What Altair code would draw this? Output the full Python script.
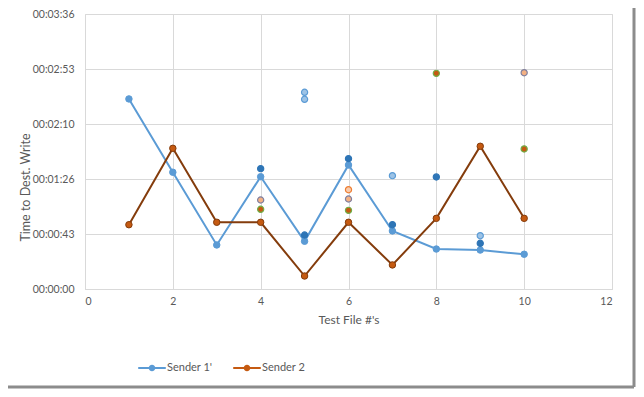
import altair as alt
import pandas as pd

files = [1, 2, 3, 4, 5, 6, 7, 8, 9, 10]
sender1 = [149.3, 91.7, 34.6, 88.2, 37.5, 97.4, 45.6, 31.4, 30.6, 27.3]
sender2 = [50.5, 110.5, 52.4, 52.4, 10.2, 52.4, 18.9, 55.5, 112.1, 55.5]
series_names = ["Sender 1'", "Sender 2"]

extra_x = [4, 4, 4, 5, 5, 5, 6, 6, 6, 6, 7, 7, 8, 8, 9, 9, 10, 10]
extra_y = [94.5, 69.9, 62.6, 154.5, 149.0, 42.4, 102.4, 78.0, 70.7, 61.8,
           89.0, 50.5, 169.4, 88.0, 41.9, 35.9, 169.9, 110.0]
extra_kind = ["dark", "grey", "green", "light", "light", "dark", "dark", "orange",
              "grey", "green", "light", "dark", "green", "dark", "light", "dark",
              "grey", "green"]

y_ticks = [0, 43.2, 86.4, 129.6, 172.8, 216]
x_ticks = [0, 2, 4, 6, 8, 10, 12]

rows = []
for i, f in enumerate(files):
    rows.append({"file": f, "t": sender1[i], "series": series_names[0]})
    rows.append({"file": f, "t": sender2[i], "series": series_names[1]})
df = pd.DataFrame(rows)
extra = pd.DataFrame({"file": extra_x, "t": extra_y, "kind": extra_kind})

FONT = "Lato"
GREY = "#595959"
W, H = 527, 275

label_expr = ("'00:0' + floor(round(datum.value)/60) + ':' + "
              "(round(datum.value)%60 < 10 ? '0' : '') + (round(datum.value)%60)")

xenc = alt.X("file:Q", scale=alt.Scale(domain=[0, 12], nice=False),
             axis=alt.Axis(values=x_ticks, title="Test File #'s", grid=True,
                           gridColor="#d9d9d9", domainColor="#d9d9d9", ticks=False,
                           labelPadding=7, titlePadding=8, labelColor=GREY,
                           titleColor=GREY, labelFont=FONT, titleFont=FONT,
                           labelFontSize=10.5, titleFontSize=12, titleFontWeight="normal"))
yenc = alt.Y("t:Q", scale=alt.Scale(domain=[0, 216], nice=False, zero=True),
             axis=alt.Axis(values=y_ticks, labelExpr=label_expr, title="Time to Dest. Write",
                           grid=True, gridColor="#d9d9d9", domain=False, ticks=False,
                           labelPadding=11, labelColor=GREY, titleColor=GREY,
                           labelFont=FONT, titleFont=FONT, labelFontSize=10.5,
                           titleFontSize=12.5, titleFontWeight="normal",
                           titleX=-60, titleY=173, titleAngle=-90,
                           titleBaseline="middle", titleAlign="center"))

lines = alt.Chart(df).mark_line(strokeWidth=2).encode(
    x=xenc, y=yenc,
    stroke=alt.Stroke("series:N", scale=alt.Scale(domain=series_names,
                                                  range=["#5b9bd5", "#843c0c"]),
                      legend=None),
)

legend_path = ("M-1,-0.075 L1,-0.075 L1,0.075 L-1,0.075 Z "
               "M-0.24,0 A0.24,0.24 0 1,1 0.24,0 A0.24,0.24 0 1,1 -0.24,0 Z")

points = alt.Chart(df).mark_point(filled=True, size=42, opacity=1, strokeWidth=1).encode(
    x="file:Q", y="t:Q",
    color=alt.Color("series:N",
                    scale=alt.Scale(domain=series_names, range=["#5b9bd5", "#c55a11"]),
                    legend=alt.Legend(title=None, orient="none", direction="horizontal",
                                      legendX=53, legendY=340, symbolType=legend_path,
                                      symbolSize=760, symbolStrokeWidth=0,
                                      labelFont=FONT, labelFontSize=11, labelColor=GREY,
                                      labelOffset=1, columnPadding=20, padding=0,
                                      symbolOpacity=1)),
    stroke=alt.Stroke("series:N", scale=alt.Scale(domain=series_names,
                                                  range=["#5b9bd5", "#843c0c"]),
                      legend=None),
)

kinds = ["dark", "light", "grey", "green", "orange"]
extras = alt.Chart(extra).mark_point(filled=True, size=38, opacity=1, strokeWidth=1.2).encode(
    x="file:Q", y="t:Q",
    fill=alt.Fill("kind:N", scale=alt.Scale(domain=kinds,
                  range=["#2e75b6", "#9dc3e6", "#f4b183", "#c55a11", "#f8cbad"]), legend=None),
    stroke=alt.Stroke("kind:N", scale=alt.Scale(domain=kinds,
                      range=["#2e75b6", "#5b9bd5", "#7f7f9f", "#70ad47", "#ed7d31"]), legend=None),
)

frame_r = alt.Chart(pd.DataFrame({"a": [0]})).mark_rule(color="#8c8c8c", strokeWidth=3).encode(
    x=alt.value(W + 22), y=alt.value(-6), y2=alt.value(H + 98))
frame_b = alt.Chart(pd.DataFrame({"a": [0]})).mark_rule(color="#8c8c8c", strokeWidth=3).encode(
    x=alt.value(-77), x2=alt.value(W + 22), y=alt.value(H + 98))

chart = alt.layer(lines, points, extras, frame_r, frame_b).resolve_scale(
    color="independent", stroke="independent", fill="independent"
).properties(
    width=W, height=H,
    autosize=alt.AutoSizeParams(type="none"),
    padding={"left": 77, "top": 6, "right": 24, "bottom": 100},
).configure_view(stroke=None).configure(background="white")

chart.save("out.html", embed_options={"renderer": "svg", "actions": False})
